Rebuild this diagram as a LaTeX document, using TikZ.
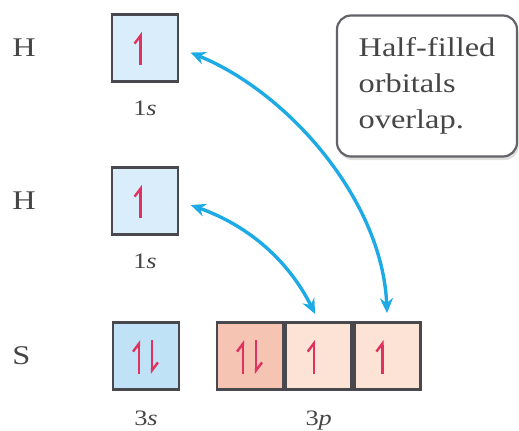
\documentclass[tikz,border=0pt]{standalone}
\usepackage{fontspec}
\setmainfont{Liberation Serif}[FakeStretch=1.2]
\usetikzlibrary{arrows.meta, positioning, shadows}
\definecolor{ORBblue}{RGB}{218, 237, 250}
\definecolor{ORBblueD}{RGB}{192, 226, 246}
\definecolor{ORBsalmon}{RGB}{246, 196, 178}
\definecolor{ORBpeach}{RGB}{252, 227, 214}
\definecolor{ORBline}{RGB}{72, 72, 78}
\definecolor{SPINred}{RGB}{224, 50, 96}
\definecolor{LINKblue}{RGB}{30, 170, 228}
\definecolor{TXTgray}{RGB}{70, 70, 70}
\tikzset{
    orbbox/.style={
        rectangle, draw=ORBline, line width=1.35pt,
        minimum width=33pt, minimum height=33.5pt, inner sep=0pt
    },
    atomlabel/.style={font=\fontsize{13.5}{16}\selectfont, text=TXTgray, anchor=west, inner sep=0pt},
    sublabel/.style={font=\fontsize{11}{13}\selectfont, text=TXTgray, inner sep=0pt},
    spin/.style={-{Straight Barb[left, length=4pt, width=6pt]}, line width=1.2pt, color=SPINred},
    link/.style={{Stealth[length=7.5pt, width=6.5pt]}-{Stealth[length=7.5pt, width=6.5pt]}, line width=1.7pt, color=LINKblue},
    notebox/.style={
        rectangle, rounded corners=7pt, draw=ORBline!85, line width=1.1pt, fill=white,
        minimum width=90pt, minimum height=70.5pt, align=left, text=TXTgray,
        font=\fontsize{13.5}{18}\selectfont,
        drop shadow={opacity=0.25, shadow xshift=0.8pt, shadow yshift=-1.8pt}
    },
}

\begin{document}
\begin{tikzpicture}[x=0.5pt, y=-0.5pt]
    \useasboundingbox (0, 0) rectangle (519, 430);

    % Atoms
    \node[atomlabel] (hA) at (12, 48) {H};
    \node[atomlabel] (hB) at (12, 201) {H};
    \node[atomlabel] (sS) at (12, 356) {S};

    % Orbital boxes
    \node[orbbox, fill=ORBblue] (h1box) at (145, 48) {};
    \node[orbbox, fill=ORBblue] (h2box) at (145, 201) {};
    \node[orbbox, fill=ORBblueD] (s3box) at (146, 356) {};
    \node[orbbox, fill=ORBsalmon] (p1box) at (250, 356) {};
    \node[orbbox, fill=ORBpeach, right=0pt of p1box] (p2box) {};
    \node[orbbox, fill=ORBpeach, right=0pt of p2box] (p3box) {};

    % Sublevel names
    \node[sublabel, below=9pt of h1box] (h1name) {1\textit{s}};
    \node[sublabel, below=9pt of h2box] (h2name) {1\textit{s}};
    \node[sublabel, below=10pt of s3box] (s3name) {3\textit{s}};
    \node[sublabel, below=10pt of p2box] (p3name) {3\textit{p}};

    % Electrons
    \draw[spin] ([xshift=-2.2pt, yshift=-8.5pt]h1box.center) -- ([xshift=-2.2pt, yshift=8pt]h1box.center);
    \draw[spin] ([xshift=-2.2pt, yshift=-8.5pt]h2box.center) -- ([xshift=-2.2pt, yshift=8pt]h2box.center);
    \draw[spin] ([xshift=-3.5pt, yshift=-9pt]s3box.center) -- ([xshift=-3.5pt, yshift=8pt]s3box.center);
    \draw[spin] ([xshift=3pt, yshift=8pt]s3box.center) -- ([xshift=3pt, yshift=-9pt]s3box.center);
    \draw[spin] ([xshift=-3.5pt, yshift=-9pt]p1box.center) -- ([xshift=-3.5pt, yshift=8pt]p1box.center);
    \draw[spin] ([xshift=3pt, yshift=8pt]p1box.center) -- ([xshift=3pt, yshift=-9pt]p1box.center);
    \draw[spin] ([xshift=-2.5pt, yshift=-9pt]p2box.center) -- ([xshift=-2.5pt, yshift=8pt]p2box.center);
    \draw[spin] ([xshift=-2.5pt, yshift=-9pt]p3box.center) -- ([xshift=-2.5pt, yshift=8pt]p3box.center);

    % Overlap arrows
    \draw[link, shorten <=6pt, shorten >=4pt] (h1box.east) .. controls +(110, 45) and +(-5, -120) .. (p3box.north);
    \draw[link, shorten <=6pt, shorten >=4pt] (h2box.east) .. controls +(70, 25) and +(-30, -60) .. (p2box.north);

    % Note
    \node[notebox] (note) at (427, 86) {Half-filled\\orbitals\\overlap.};
\end{tikzpicture}
\end{document}
